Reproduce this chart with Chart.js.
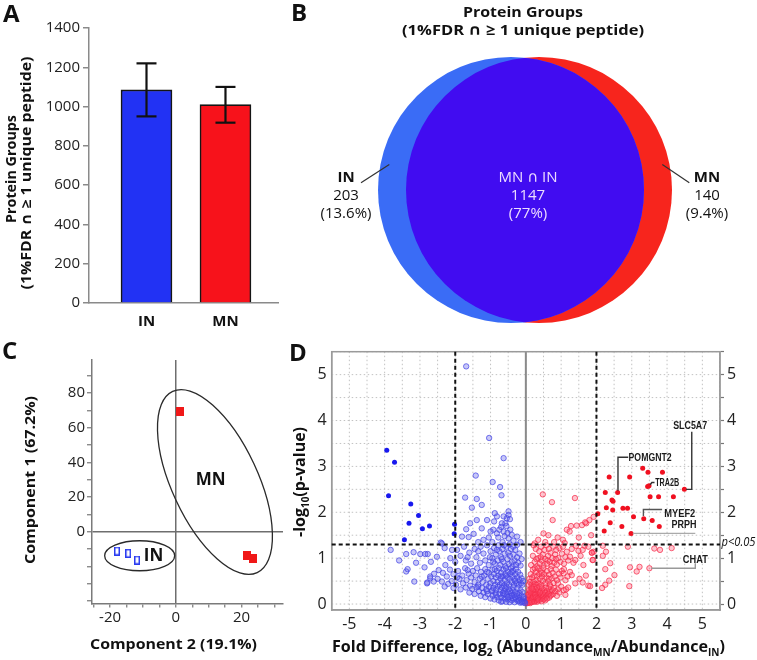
<!DOCTYPE html>
<html><head><meta charset="utf-8">
<script src="https://cdn.jsdelivr.net/npm/chart.js@4.4.0/dist/chart.umd.min.js"></script>
<style>
html,body{margin:0;padding:0;background:#fff;}
#wrap{position:relative;width:757px;height:660px;overflow:hidden;background:#fff;}
canvas{position:absolute;}
.lbl{position:absolute;font:bold 24px "Open Sans",sans-serif;color:#111;line-height:1;}
</style></head><body>
<div id="wrap">
<canvas id="cA" width="290" height="330" style="left:0;top:0"></canvas>
<canvas id="cB" width="467" height="330" style="left:290px;top:0"></canvas>
<canvas id="cC" width="290" height="330" style="left:0;top:330px"></canvas>
<canvas id="cD" width="467" height="330" style="left:290px;top:330px"></canvas>
<div class="lbl" style="left:3px;top:1px">A</div>
<div class="lbl" style="left:291px;top:0px">B</div>
<div class="lbl" style="left:2px;top:338px">C</div>
<div class="lbl" style="left:289px;top:340px">D</div>
</div>
<script>
const FONT = '"Open Sans", "DejaVu Sans", sans-serif';

// ---------- Panel A data ----------
const barCategories = ['IN', 'MN'];
const barValues = [1085, 1010];
const barErrLow = [950, 918];
const barErrHigh = [1220, 1100];
const barTicks = [0, 200, 400, 600, 800, 1000, 1200, 1400];

// ---------- Panel B data ----------
const vennSets = ['IN', 'MN'];
const vennOnly = [203, 140];
const vennOnlyPct = ['(13.6%)', '(9.4%)'];
const vennSharedLabel = 'MN \u2229 IN';
const vennShared = 1147;
const vennSharedPct = '(77%)';

// ---------- Panel C data ----------
const pcaGroups = ['IN', 'MN'];
const pcaIN = [[-17.9, -11.2], [-14.5, -12.5], [-11.8, -16.4]];
const pcaMN = [[1.3, 69.4], [21.5, -14.0], [23.5, -15.4]];
const pcaYLabels = [0, 20, 40, 60, 80];
const pcaXLabels = [-20, 0, 20];

// ---------- Panel D data ----------
const volcanoXLabels = [-5, -4, -3, -2, -1, 0, 1, 2, 3, 4, 5];
const volcanoYLabels = [0, 1, 2, 3, 4, 5];
const foldThresholds = [-2, 2];
const pThreshold = 1.3;
const pLabel = 'p<0.05';
const geneNames = ['SLC5A7', 'POMGNT2', 'TRA2B', 'MYEF2', 'PRPH', 'CHAT'];

const blueSig = [[-3.94,3.35],[-3.72,3.09],[-3.89,2.36],[-3.26,2.18],[-3.04,1.93],[-3.31,1.76],[-2.93,1.64],[-2.73,1.70],[-3.44,1.40],[-2.02,1.74],[-2.03,1.53]];

const blueNonSig = [
[-1.69,5.18],[-1.04,3.62],[-0.63,3.18],[-1.42,2.80],[-0.94,2.66],[-0.73,2.55],[-0.69,2.37],[-1.72,2.32],[-1.39,2.29],[-1.25,2.16],[-1.53,2.10],
[-3.83,1.18],[-3.59,0.95],[-3.39,1.09],[-3.18,1.13],[-2.99,1.09],[-2.85,1.09],[-2.78,1.09],[-3.11,0.90],[-3.35,0.76],[-3.39,0.71],[-2.87,0.80],[-2.69,0.92],[-2.52,1.03],[-2.41,1.34],[-3.16,0.49],[-2.71,0.56],[-2.79,0.47],
[-0.49,2.02],[-0.49,1.94],[-0.54,1.87],[-0.63,1.91],[-0.58,1.76],[-0.68,1.76],[-0.82,1.91],[-0.90,1.80],[-0.75,1.62],[-0.92,1.62],[-0.82,1.54],[-0.63,1.58],[-0.44,1.62],[-0.40,1.51],[-0.49,1.43],[-0.25,1.47],[-0.25,1.29],[-1.10,1.83],[-1.25,1.65],[-1.39,1.83],[-1.58,1.76],[-1.69,1.63],[-1.81,1.47],[-1.62,1.46],[-1.48,1.53],[-0.55,1.70],[-0.70,1.68],[-0.60,1.48],[-0.78,1.45],[-0.35,1.38],[-1.05,1.45],[-1.20,1.40],[-0.95,1.35],[-0.45,1.85],[-0.52,1.55],[-0.66,1.35],[-1.35,1.35],[-0.15,1.35],[-0.88,1.98],[-1.00,1.58],
[-2.38,1.32],[-2.09,1.18],[-2.14,1.00],[-1.95,1.18],[-2.28,0.85],[-2.30,1.22],[-1.85,1.05],[-1.75,1.25],[-1.70,0.95],[-1.60,1.12],[-1.55,0.88],[-1.45,1.20],[-1.40,1.02],[-1.30,0.90],[-1.28,1.25],[-1.20,1.10],[-1.15,0.95],[-1.10,1.28],[-1.05,0.85],[-1.00,1.15],[-0.95,1.00],[-0.90,1.22],[-0.88,0.88],[-0.85,1.08],[-0.80,0.95],[-0.78,1.28],[-0.75,1.15],[-0.72,0.85],[-0.70,1.02],[-0.66,1.20],[-0.64,0.92],[-0.60,1.10],[-0.58,0.82],[-0.55,1.25],[-0.52,0.98],[-0.50,1.12],[-0.48,0.87],[-0.45,1.05],[-0.42,1.20],[-0.40,0.92],[-0.38,0.82],[-0.35,1.08],[-0.32,0.95],[-0.30,1.18],[-0.28,0.85],[-0.25,1.02],[-0.22,0.90],[-0.18,1.10],[-0.15,0.84],[-0.12,0.98],[-0.62,1.28],[-0.82,1.18],[-1.02,1.02],[-1.35,1.15],[-1.65,1.02],[-2.00,0.92],[-0.46,1.30],[-0.68,0.98],[-0.92,0.92],[-0.36,1.25],
[-2.47,0.74],[-2.71,0.60],[-2.80,0.45],[-2.61,0.49],[-2.38,0.49],[-2.24,0.60],[-2.50,0.55],[-2.35,0.68],[-2.15,0.75],[-2.10,0.50],[-2.05,0.65],[-1.98,0.42],[-1.92,0.72],[-1.88,0.55],[-1.80,0.62],[-1.78,0.45],[-1.72,0.78],[-1.68,0.52],[-1.62,0.66],[-1.58,0.40],[-1.55,0.58],[-1.50,0.72],[-1.45,0.48],[-1.42,0.62],[-1.38,0.78],[-1.35,0.42],[-1.30,0.55],[-1.27,0.70],[-1.22,0.48],[-1.18,0.62],[-1.15,0.76],[-1.12,0.42],[-1.08,0.55],[-1.05,0.68],[-1.00,0.45],[-0.98,0.60],[-0.95,0.75],[-0.92,0.50],[-0.90,0.65],[-0.87,0.42],[-0.85,0.58],[-0.82,0.72],[-0.80,0.48],[-0.78,0.62],[-0.76,0.78],[-0.74,0.42],[-0.72,0.55],[-0.70,0.68],[-0.68,0.46],[-0.66,0.60],[-0.64,0.75],[-0.62,0.40],[-0.60,0.52],[-0.58,0.65],[-0.56,0.78],[-0.54,0.45],[-0.52,0.58],[-0.50,0.70],[-0.48,0.42],[-0.46,0.55],[-0.44,0.66],[-0.42,0.78],[-0.40,0.48],[-0.38,0.60],[-0.36,0.72],[-0.34,0.42],[-0.32,0.54],[-0.30,0.65],[-0.28,0.76],[-0.26,0.46],[-0.24,0.58],[-0.22,0.70],[-0.20,0.42],[-0.18,0.52],[-0.16,0.64],[-0.14,0.45],[-0.12,0.56],[-0.10,0.42],[-0.08,0.50],[-2.60,0.66],[-2.20,0.44],[-1.95,0.58],[-1.65,0.74],[-1.25,0.60],[-1.10,0.70],[-0.88,0.76],[-0.70,0.60],[-0.55,0.62],[-0.40,0.70],[-0.30,0.50],
[-2.30,0.38],[-2.05,0.35],[-1.85,0.32],[-1.70,0.36],[-1.60,0.25],[-1.52,0.33],[-1.45,0.22],[-1.40,0.36],[-1.33,0.28],[-1.28,0.18],[-1.24,0.35],[-1.20,0.25],[-1.15,0.15],[-1.12,0.32],[-1.08,0.22],[-1.04,0.38],[-1.00,0.12],[-0.97,0.28],[-0.94,0.18],[-0.92,0.35],[-0.89,0.10],[-0.86,0.24],[-0.84,0.32],[-0.81,0.15],[-0.79,0.38],[-0.77,0.08],[-0.75,0.22],[-0.72,0.30],[-0.70,0.14],[-0.68,0.36],[-0.66,0.06],[-0.64,0.20],[-0.62,0.28],[-0.60,0.12],[-0.58,0.34],[-0.56,0.05],[-0.54,0.18],[-0.52,0.26],[-0.50,0.10],[-0.48,0.32],[-0.46,0.04],[-0.44,0.16],[-0.42,0.24],[-0.40,0.08],[-0.38,0.30],[-0.36,0.12],[-0.34,0.20],[-0.32,0.04],[-0.30,0.26],[-0.28,0.10],[-0.26,0.18],[-0.24,0.34],[-0.22,0.06],[-0.20,0.14],[-0.18,0.24],[-0.16,0.03],[-0.14,0.10],[-0.12,0.18],[-0.10,0.06],[-0.08,0.12],[-0.06,0.03],[-0.04,0.06],[-0.02,0.02],[-0.15,0.30],[-0.10,0.26],[-0.06,0.15],[-0.35,0.36],[-0.55,0.38],[-0.65,0.24],[-0.85,0.20],[-0.95,0.30],[-1.10,0.28],[-1.35,0.38],[-0.45,0.28],[-0.25,0.22],[-0.70,0.05],[-0.60,0.22],[-0.50,0.15],[-0.40,0.18],[-0.30,0.14],[-0.20,0.08],[-0.12,0.04]
];

const redSig = [[2.36,2.77],[2.94,2.77],[3.31,2.96],[3.46,2.87],[3.87,2.87],[3.45,2.56],[3.49,2.58],[4.49,2.50],[2.60,2.43],[2.25,2.43],[2.44,2.27],[2.47,2.24],[3.52,2.34],[3.76,2.34],[4.18,2.34],[2.28,2.10],[2.46,2.05],[2.75,2.09],[2.88,2.09],[3.05,1.90],[3.34,1.86],[3.58,1.82],[3.78,1.69],[2.39,1.77],[2.22,1.59],[2.72,1.69],[2.98,1.54],[2.04,1.97]];

const redNonSig = [
[0.48,2.39],[0.74,2.22],[1.39,2.31],[0.76,1.83],[0.50,1.54],[1.28,1.70],[1.16,1.62],[1.59,1.72],[1.71,1.76],[1.80,1.83],[1.92,1.90],[1.44,1.71],[1.68,1.78],[1.24,1.58],[0.64,1.50],[0.90,1.45],[1.05,1.40],[0.55,1.35],[0.35,1.40],[0.80,1.35],[1.50,1.45],[1.85,1.50],[1.10,1.33],[0.25,1.32],
[0.15,0.85],[0.20,1.05],[0.25,0.92],[0.28,1.20],[0.32,0.82],[0.35,1.00],[0.38,1.15],[0.40,0.88],[0.43,1.25],[0.45,0.95],[0.48,1.08],[0.50,0.84],[0.53,1.18],[0.55,0.98],[0.58,1.28],[0.60,0.88],[0.63,1.05],[0.65,1.20],[0.68,0.92],[0.70,1.12],[0.73,0.83],[0.75,1.00],[0.78,1.25],[0.80,0.90],[0.83,1.08],[0.86,1.18],[0.88,0.86],[0.92,1.00],[0.95,1.22],[0.98,0.92],[1.02,1.10],[1.05,1.25],[1.08,0.88],[1.12,1.02],[1.16,1.14],[1.20,0.95],[1.25,1.03],[1.30,1.20],[1.35,0.90],[1.40,0.96],[1.42,1.27],[1.49,1.16],[1.55,1.05],[1.61,1.18],[1.66,1.27],[1.77,1.25],[1.87,1.12],[1.89,0.96],[0.22,1.28],[0.42,1.02],[0.62,0.95],[0.85,0.98],[0.30,0.98],
[0.08,0.42],[0.10,0.55],[0.12,0.48],[0.14,0.65],[0.16,0.42],[0.18,0.58],[0.20,0.75],[0.22,0.48],[0.24,0.62],[0.26,0.44],[0.28,0.70],[0.30,0.52],[0.32,0.60],[0.34,0.78],[0.36,0.45],[0.38,0.66],[0.40,0.55],[0.42,0.72],[0.44,0.42],[0.46,0.60],[0.48,0.50],[0.50,0.78],[0.52,0.65],[0.55,0.45],[0.58,0.58],[0.60,0.72],[0.63,0.50],[0.66,0.64],[0.68,0.42],[0.70,0.76],[0.73,0.56],[0.76,0.68],[0.79,0.46],[0.82,0.60],[0.85,0.75],[0.88,0.52],[0.91,0.45],[0.94,0.66],[0.98,0.58],[1.02,0.72],[1.07,0.67],[1.08,0.76],[1.12,0.52],[1.18,0.60],[1.25,0.70],[1.30,0.63],[1.40,0.45],[1.52,0.55],[1.63,0.85],[1.61,0.47],[1.77,0.40],[1.70,0.62],[0.25,0.78],[0.45,0.68],[0.65,0.55],[0.30,0.42],
[0.02,0.02],[0.04,0.05],[0.05,0.10],[0.06,0.03],[0.07,0.15],[0.08,0.08],[0.09,0.22],[0.10,0.04],[0.11,0.12],[0.12,0.28],[0.13,0.06],[0.14,0.18],[0.15,0.35],[0.16,0.10],[0.17,0.24],[0.18,0.05],[0.19,0.14],[0.20,0.30],[0.21,0.08],[0.22,0.20],[0.23,0.38],[0.24,0.12],[0.25,0.26],[0.26,0.06],[0.27,0.16],[0.28,0.32],[0.29,0.10],[0.30,0.22],[0.31,0.14],[0.32,0.36],[0.33,0.08],[0.34,0.26],[0.35,0.18],[0.36,0.30],[0.37,0.12],[0.38,0.22],[0.39,0.38],[0.40,0.15],[0.42,0.28],[0.43,0.10],[0.44,0.20],[0.46,0.34],[0.47,0.14],[0.48,0.25],[0.50,0.18],[0.52,0.30],[0.53,0.12],[0.55,0.24],[0.57,0.36],[0.58,0.16],[0.60,0.28],[0.62,0.20],[0.64,0.34],[0.66,0.14],[0.68,0.26],[0.70,0.38],[0.72,0.20],[0.75,0.30],[0.78,0.22],[0.80,0.35],[0.84,0.28],[0.88,0.18],[0.91,0.32],[0.95,0.25],[1.00,0.38],[1.07,0.30],[1.12,0.20],[1.14,0.32],[1.20,0.36],[0.03,0.08],[0.05,0.02],[0.08,0.12],[0.10,0.18],[0.12,0.02],[0.14,0.08],[0.16,0.04],[0.18,0.12],[0.20,0.16],[0.24,0.05],[0.26,0.20],[0.28,0.14],[0.32,0.05],[0.34,0.12],[0.36,0.08],[0.40,0.25],[0.45,0.06],[0.50,0.10],[0.55,0.08],[0.60,0.12],[0.65,0.22],[0.70,0.18],[0.06,0.20],[0.09,0.30],[0.13,0.25],[0.18,0.33],
[2.18,1.27],[2.27,1.14],[1.92,1.14],[1.90,0.96],[2.89,1.25],[3.64,1.21],[3.80,1.18],[4.13,1.22],[2.95,0.80],[3.14,0.71],[3.22,0.81],[3.50,0.78],[2.39,0.89],[2.51,0.63],[2.36,0.51],[2.25,0.42],[2.16,0.35],[2.93,0.39],[1.82,0.39],[2.25,0.76],[2.18,1.05],[1.87,1.12]
];

// ---------- layout (not data) ----------
const vennLayout = { centers: [[-12.5, -25], [15.5, -25]], radius: 133 };
const pcaEllipses = [
  { cx: -11.0, cy: -13.9, rx: 35, ry: 15, rot: 0 },
  { cx: 11.9, cy: 28.7, rx: 43, ry: 100, rot: -25 * Math.PI / 180 }
];
const pcaLabelPos = [[-6.8, -13.4], [10.6, 30.5]];
const geneLabelLayout = [
  { text: [4.655, 3.89], align: 'center', w: 34, path: [[4.70, 3.755], [4.70, 2.50], [4.54, 2.50]], color: '#333' },
  { text: [2.91, 3.20], align: 'left', w: 43, path: [[2.90, 3.20], [2.61, 3.20], [2.61, 2.47]], color: '#333' },
  { text: [3.665, 2.65], align: 'left', w: 24, path: [[3.52, 2.60], [3.57, 2.65], [3.645, 2.65]], color: '#333' },
  { text: [3.92, 1.99], align: 'left', w: 31, path: [[3.86, 2.06], [3.33, 2.06], [3.33, 1.92]], color: '#555' },
  { text: [4.48, 1.74], align: 'center', w: 25, path: [[3.03, 1.54], [4.80, 1.54]], color: '#aaa' },
  { text: [4.80, 0.98], align: 'center', w: 25, path: [[3.55, 0.78], [4.80, 0.78], [4.80, 0.89]], color: '#999' }
];

Chart.defaults.font.family = FONT;
Chart.defaults.color = '#222';

function rich(ctx, parts, x, y, opt) {
  const fam = opt.family || FONT;
  const base = (opt.style || '') + ' ' + (opt.weight || 'normal') + ' ' + opt.size + 'px ' + fam;
  const sub = (opt.style || '') + ' ' + (opt.weight || 'normal') + ' ' + Math.round(opt.size * 0.65) + 'px ' + fam;
  ctx.save();
  ctx.translate(x, y);
  if (opt.rot) ctx.rotate(opt.rot);
  let w = 0;
  for (const p of parts) { ctx.font = p[1] ? sub : base; w += ctx.measureText(p[0]).width; }
  if (opt.w) ctx.scale(opt.w / w, 1);
  let cx = opt.align === 'left' ? 0 : (opt.align === 'right' ? -w : -w / 2);
  ctx.fillStyle = opt.color || '#111';
  ctx.textAlign = 'left';
  ctx.textBaseline = 'alphabetic';
  const bl = opt.size * 0.36;
  for (const p of parts) {
    ctx.font = p[1] ? sub : base;
    ctx.fillText(p[0], cx, p[1] ? bl + opt.size * 0.25 : bl);
    cx += ctx.measureText(p[0]).width;
  }
  ctx.restore();
}
function line(ctx, pts, color, lw, dash) {
  ctx.save();
  ctx.strokeStyle = color; ctx.lineWidth = lw; ctx.setLineDash(dash || []);
  ctx.beginPath();
  pts.forEach((p, i) => i ? ctx.lineTo(p[0], p[1]) : ctx.moveTo(p[0], p[1]));
  ctx.stroke();
  ctx.restore();
}
const common = { responsive: false, animation: false, events: [], plugins: { legend: { display: false }, tooltip: { enabled: false } } };

// ================= Panel A =================
const pluginA = {
  id: 'pA',
  afterDatasetsDraw(ch) {
    const ctx = ch.ctx, xs = ch.scales.x, ys = ch.scales.y;
    barValues.forEach((v, i) => {
      const x = xs.getPixelForValue(i + 1), y1 = ys.getPixelForValue(barErrLow[i]), y2 = ys.getPixelForValue(barErrHigh[i]);
      line(ctx, [[x, y1], [x, y2]], '#111', 2.2);
      line(ctx, [[x - 10, y1], [x + 10, y1]], '#111', 2.2);
      line(ctx, [[x - 10, y2], [x + 10, y2]], '#111', 2.2);
    });
  },
  afterDraw(ch) {
    const ctx = ch.ctx;
    rich(ctx, [['Protein Groups', 0]], 11, 169, { size: 14, weight: 'bold', rot: -Math.PI / 2, w: 108 });
    rich(ctx, [['(1%FDR \u2229 \u2265 1 unique peptide)', 0]], 26, 173, { size: 14, weight: 'bold', rot: -Math.PI / 2, w: 233 });
  }
};
new Chart(document.getElementById('cA'), {
  type: 'bar',
  data: { datasets: [{
    data: barCategories.map((c, i) => ({ x: i + 1, y: barValues[i] })),
    backgroundColor: ['#2232f4', '#f7121b'], borderColor: '#151515', borderWidth: 1.6, barThickness: 51
  }] },
  options: Object.assign({}, common, {
    layout: { padding: { left: 0, right: 12, top: 28, bottom: 0 } },
    scales: {
      x: { type: 'linear', offset: false, min: 0.272, max: 2.665,
        afterBuildTicks: s => { s.ticks = barCategories.map((c, i) => ({ value: i + 1 })); },
        ticks: { callback: v => barCategories[v - 1], font: { size: 15, weight: 'bold' }, color: '#111', padding: 10, autoSkip: false, maxRotation: 0 },
        grid: { display: false, drawTicks: false, tickLength: 0 },
        border: { display: true, color: '#8a8a8a', width: 1.5 },
        afterFit: s => { s.height = 27; } },
      y: { min: 0, max: 1400,
        afterBuildTicks: s => { s.ticks = barTicks.map(v => ({ value: v })); },
        ticks: { font: { size: 15 }, color: '#222', padding: 3, callback: v => String(v) },
        grid: { drawOnChartArea: false, drawTicks: true, tickLength: 6, color: '#8a8a8a', lineWidth: 1.5 },
        border: { color: '#8a8a8a', width: 1.5 },
        afterFit: s => { s.width = 89; } }
    }
  }),
  plugins: [pluginA]
});

// ================= Panel B =================
const pluginB = {
  id: 'pB',
  afterDatasetsDraw(ch) {
    const ctx = ch.ctx;
    const a = ch.getDatasetMeta(0).data[0], b = ch.getDatasetMeta(1).data[0];
    ctx.save();
    ctx.beginPath(); ctx.arc(a.x, a.y, a.options.radius, 0, Math.PI * 2); ctx.clip();
    ctx.beginPath(); ctx.arc(b.x, b.y, b.options.radius, 0, Math.PI * 2);
    ctx.fillStyle = '#410cf1'; ctx.fill();
    ctx.restore();
  },
  afterDraw(ch) {
    const ctx = ch.ctx;
    rich(ctx, [['Protein Groups', 0]], 233, 12, { size: 15, weight: 'bold', w: 120 });
    rich(ctx, [['(1%FDR \u2229 \u2265 1 unique peptide)', 0]], 233, 30, { size: 15, weight: 'bold', w: 242 });
    const lx = [56, 417];
    vennSets.forEach((s, i) => {
      rich(ctx, [[s, 0]], lx[i], 177, { size: 15, weight: 'bold' });
      rich(ctx, [[String(vennOnly[i]), 0]], lx[i], 194.5, { size: 15 });
      rich(ctx, [[vennOnlyPct[i], 0]], lx[i], 213, { size: 15 });
    });
    rich(ctx, [[vennSharedLabel, 0]], 238, 177, { size: 15, color: '#ecdcff' });
    rich(ctx, [[String(vennShared), 0]], 238, 194.5, { size: 15, color: '#ecdcff' });
    rich(ctx, [[vennSharedPct, 0]], 238, 213, { size: 15, color: '#ecdcff' });
    line(ctx, [[71, 182.7], [99.3, 164.5]], '#333', 1.2);
    line(ctx, [[372.3, 164.5], [399.3, 182.7]], '#333', 1.2);
  }
};
new Chart(document.getElementById('cB'), {
  type: 'bubble',
  data: { datasets: vennSets.map((s, i) => ({
    label: s,
    data: [{ x: vennLayout.centers[i][0], y: vennLayout.centers[i][1], r: vennLayout.radius }],
    backgroundColor: i === 0 ? '#3a6cf6' : '#f7251d', borderWidth: 0, hoverRadius: 0
  })) },
  options: Object.assign({}, common, {
    layout: { padding: 0, autoPadding: false },
    clip: false,
    scales: { x: { display: false, min: -233.5, max: 233.5 }, y: { display: false, min: -165, max: 165 } }
  }),
  plugins: [pluginB]
});

// ================= Panel C =================
function rectStyle(w, h, fill, stroke, lw) {
  const c = document.createElement('canvas'); c.width = w; c.height = h;
  const g = c.getContext('2d');
  if (fill) { g.fillStyle = fill; g.fillRect(0, 0, w, h); }
  if (stroke) { g.strokeStyle = stroke; g.lineWidth = lw; g.strokeRect(lw / 2, lw / 2, w - lw, h - lw); }
  return c;
}
const pluginC = {
  id: 'pC',
  afterDatasetsDraw(ch) {
    const ctx = ch.ctx, xs = ch.scales.x, ys = ch.scales.y;
    pcaEllipses.forEach(e => {
      ctx.save();
      ctx.strokeStyle = '#2a2a2a'; ctx.lineWidth = 1.3;
      ctx.beginPath();
      ctx.ellipse(xs.getPixelForValue(e.cx), ys.getPixelForValue(e.cy), e.rx, e.ry, e.rot, 0, Math.PI * 2);
      ctx.stroke();
      ctx.restore();
    });
    pcaGroups.forEach((g, i) => {
      rich(ctx, [[g, 0]], xs.getPixelForValue(pcaLabelPos[i][0]), ys.getPixelForValue(pcaLabelPos[i][1]), { size: 17, weight: 'bold' });
    });
  },
  afterDraw(ch) {
    const ctx = ch.ctx;
    rich(ctx, [['Component 1 (67.2%)', 0]], 30, 150, { size: 15, weight: 'bold', rot: -Math.PI / 2, w: 168 });
    rich(ctx, [['Component 2 (19.1%)', 0]], 173.5, 314, { size: 15, weight: 'bold', w: 167 });
  }
};
const zeroGrid = c => (c.tick && c.tick.value === 0) ? '#6e6e6e' : 'rgba(0,0,0,0)';
new Chart(document.getElementById('cC'), {
  type: 'scatter',
  data: { datasets: [
    { label: 'IN', data: pcaIN.map(p => ({ x: p[0], y: p[1] })), pointStyle: rectStyle(6, 9, null, '#2b3cf0', 1.5) },
    { label: 'MN', data: pcaMN.map(p => ({ x: p[0], y: p[1] })), pointStyle: rectStyle(8, 9, '#f01818', null, 0) }
  ] },
  options: Object.assign({}, common, {
    layout: { padding: { left: 0, right: 7, top: 30, bottom: 0 } },
    clip: false,
    scales: {
      x: { min: -25.5, max: 32.6,
        ticks: { stepSize: 5, includeBounds: false, autoSkip: false, maxRotation: 0, font: { size: 15 }, color: '#222', padding: 1,
          callback: v => pcaXLabels.includes(v) ? String(v) : '' },
        grid: { drawOnChartArea: true, color: zeroGrid, lineWidth: 1.5, drawTicks: true, tickLength: 4, tickColor: '#777', tickWidth: 1.2 },
        border: { color: '#7a7a7a', width: 1.5 },
        afterFit: s => { s.height = 56.5; } },
      y: { min: -41.5, max: 99.2,
        ticks: { stepSize: 10, includeBounds: false, autoSkip: false, font: { size: 15 }, color: '#222', padding: 2,
          callback: v => pcaYLabels.includes(v) ? String(v) : '' },
        grid: { drawOnChartArea: true, color: zeroGrid, lineWidth: 1.5, drawTicks: true, tickLength: 5, tickColor: '#777', tickWidth: 1.2 },
        border: { color: '#7a7a7a', width: 1.5 },
        afterFit: s => { s.width = 92; } }
    }
  }),
  plugins: [pluginC]
});

// ================= Panel D =================
const pluginD = {
  id: 'pD',
  beforeDatasetsDraw(ch) {
    const ctx = ch.ctx, xs = ch.scales.x, ys = ch.scales.y, a = ch.chartArea;
    xs.ticks.forEach(t => { const x = xs.getPixelForValue(t.value); line(ctx, [[x, a.top], [x, a.bottom]], '#c2c2c2', 1, [1.5, 2.5]); });
    ys.ticks.forEach(t => { const y = ys.getPixelForValue(t.value); line(ctx, [[a.left, y], [a.right, y]], '#c2c2c2', 1, [1.5, 2.5]); });
    const x0 = xs.getPixelForValue(0);
    line(ctx, [[x0, a.top], [x0, a.bottom]], '#8a8a8a', 2);
    ctx.save(); ctx.strokeStyle = '#9a9a9a'; ctx.lineWidth = 1.5; ctx.strokeRect(a.left, a.top, a.right - a.left, a.bottom - a.top); ctx.restore();
  },
  afterDatasetsDraw(ch) {
    const ctx = ch.ctx, xs = ch.scales.x, ys = ch.scales.y, a = ch.chartArea;
    foldThresholds.forEach(v => { const x = xs.getPixelForValue(v); line(ctx, [[x, a.top], [x, a.bottom]], '#111', 2, [4, 3]); });
    const yp = ys.getPixelForValue(pThreshold);
    line(ctx, [[a.left, yp], [a.right, yp]], '#111', 2, [4, 3]);
    rich(ctx, [[pLabel, 0]], a.right + 1.5, yp - 3, { size: 13, style: 'italic', align: 'left', w: 34 });
    geneNames.forEach((g, i) => {
      const L = geneLabelLayout[i];
      line(ctx, L.path.map(p => [xs.getPixelForValue(p[0]), ys.getPixelForValue(p[1])]), L.color, 1.4);
      rich(ctx, [[g, 0]], xs.getPixelForValue(L.text[0]), ys.getPixelForValue(L.text[1]),
        { size: 10.5, weight: 'bold', family: '"Liberation Sans", Arial, sans-serif', align: L.align, w: L.w, color: '#1a1a1a' });
    });
  },
  afterDraw(ch) {
    const ctx = ch.ctx;
    rich(ctx, [['-log', 0], ['10', 1], ['(p-value)', 0]], 9, 152, { size: 16, weight: 'bold', rot: -Math.PI / 2, w: 110 });
    rich(ctx, [['Fold Difference, log', 0], ['2', 1], [' (Abundance', 0], ['MN', 1], ['/Abundance', 0], ['IN', 1], [')', 0]], 238.5, 316, { size: 16, weight: 'bold', w: 393 });
  }
};
const toXY = arr => arr.map(p => ({ x: p[0], y: p[1] }));
new Chart(document.getElementById('cD'), {
  type: 'scatter',
  data: { datasets: [
    { label: 'IN higher (n.s.)', data: toXY(blueNonSig), pointRadius: 2.7, borderWidth: 1, backgroundColor: 'rgba(85,85,235,0.33)', borderColor: 'rgba(70,70,228,0.72)' },
    { label: 'MN higher (n.s.)', data: toXY(redNonSig), pointRadius: 2.7, borderWidth: 1, backgroundColor: 'rgba(255,75,105,0.33)', borderColor: 'rgba(245,45,75,0.72)' },
    { label: 'IN higher (sig.)', data: toXY(blueSig), pointRadius: 2.5, borderWidth: 0, backgroundColor: '#1818ee' },
    { label: 'MN higher (sig.)', data: toXY(redSig), pointRadius: 2.5, borderWidth: 0, backgroundColor: '#f01020' }
  ] },
  options: Object.assign({}, common, {
    layout: { padding: { left: 0, right: 0, top: 21.7, bottom: 0 } },
    scales: {
      x: { min: -5.5, max: 5.5,
        ticks: { stepSize: 0.5, includeBounds: false, autoSkip: false, maxRotation: 0, font: { size: 16 }, color: '#222', padding: 5,
          callback: v => volcanoXLabels.includes(v) ? String(v) : '' },
        grid: { display: false, drawTicks: false, tickLength: 0 },
        border: { display: true, color: '#9a9a9a', width: 1.5 },
        afterFit: s => { s.height = 50; } },
      y: { min: -0.13, max: 5.5,
        ticks: { stepSize: 0.5, includeBounds: false, autoSkip: false, font: { size: 16 }, color: '#222', padding: 5,
          callback: v => volcanoYLabels.includes(v) ? String(v) : '' },
        grid: { display: false, drawTicks: false, tickLength: 0 },
        border: { display: true, color: '#9a9a9a', width: 1.5 },
        afterFit: s => { s.width = 41.7; } },
      y2: { position: 'right', min: -0.13, max: 5.5,
        ticks: { stepSize: 0.5, includeBounds: false, autoSkip: false, font: { size: 16 }, color: '#222', padding: 3,
          callback: v => volcanoYLabels.includes(v) ? String(v) : '' },
        grid: { display: true, drawOnChartArea: false, drawTicks: true, tickLength: 4, tickColor: '#777', tickWidth: 1.2 },
        border: { display: true, color: '#9a9a9a', width: 1.5 },
        afterFit: s => { s.width = 37; } }
    }
  }),
  plugins: [pluginD]
});
</script>
</body></html>
